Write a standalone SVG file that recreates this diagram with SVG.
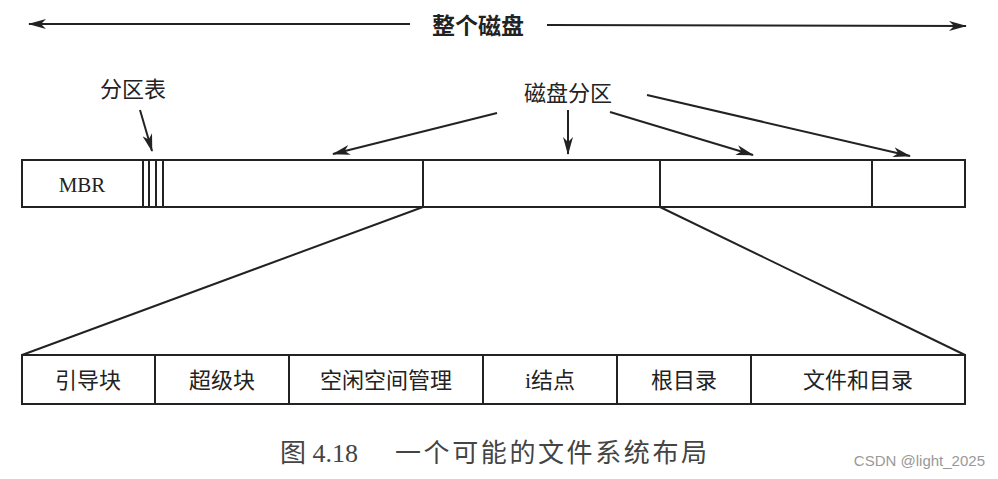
<svg xmlns="http://www.w3.org/2000/svg" width="998" height="479" viewBox="0 0 998 479">
<style>
.ln{stroke:#222;stroke-width:2;fill:none}
.box{stroke:#222;stroke-width:2;fill:#fff}
.t{font-family:"Liberation Serif","Noto Sans CJK SC",serif;fill:#222;text-anchor:middle;dominant-baseline:central}
.cn{font-size:22px}
</style>
<defs>
<marker id="ah" viewBox="0 0 18 10" refX="17" refY="5" markerWidth="18" markerHeight="10" markerUnits="userSpaceOnUse" orient="auto">
<path d="M0,0 L18,5 L0,10 L5,5 Z" fill="#222"/>
</marker>
</defs>
<rect width="998" height="479" fill="#fff"/>
<g id="connectors">
<line class="ln" x1="410" y1="24" x2="29" y2="24" marker-end="url(#ah)"/>
<line class="ln" x1="547" y1="25" x2="966" y2="26" marker-end="url(#ah)"/>
<line class="ln" x1="140" y1="110" x2="152" y2="151" marker-end="url(#ah)"/>
<line class="ln" x1="497" y1="113" x2="333" y2="154" marker-end="url(#ah)"/>
<line class="ln" x1="568" y1="110" x2="568" y2="154" marker-end="url(#ah)"/>
<line class="ln" x1="610" y1="112" x2="753" y2="155" marker-end="url(#ah)"/>
<line class="ln" x1="647" y1="95" x2="910" y2="156" marker-end="url(#ah)"/>
<line class="ln" x1="423" y1="207" x2="22" y2="355"/>
<line class="ln" x1="660" y1="207" x2="965" y2="355"/>
</g>
<g id="whole-disk-label"><text class="t" x="478" y="26" font-size="23" font-weight="bold">整个磁盘</text></g>
<g id="partition-table-label"><text class="t cn" x="133" y="89">分区表</text></g>
<g id="disk-partition-label"><text class="t cn" x="568" y="93">磁盘分区</text></g>
<g id="disk-bar">
<rect class="box" x="22" y="160" width="943" height="47"/>
<line class="ln" x1="143" y1="160" x2="143" y2="207" stroke-width="1.5"/>
<line class="ln" x1="149" y1="160" x2="149" y2="207" stroke-width="1.5"/>
<line class="ln" x1="156" y1="160" x2="156" y2="207" stroke-width="1.5"/>
<line class="ln" x1="163" y1="160" x2="163" y2="207" stroke-width="1.5"/>
<line class="ln" x1="423" y1="160" x2="423" y2="207"/>
<line class="ln" x1="660" y1="160" x2="660" y2="207"/>
<line class="ln" x1="872" y1="160" x2="872" y2="207"/>
<text class="t" x="82" y="185" font-size="21">MBR</text>
</g>
<g id="layout-bar">
<rect class="box" x="22" y="355" width="943" height="49"/>
<line class="ln" x1="155" y1="355" x2="155" y2="404"/>
<line class="ln" x1="289" y1="355" x2="289" y2="404"/>
<line class="ln" x1="483" y1="355" x2="483" y2="404"/>
<line class="ln" x1="617" y1="355" x2="617" y2="404"/>
<line class="ln" x1="751" y1="355" x2="751" y2="404"/>
</g>
<g id="boot-block"><text class="t cn" x="88" y="380">引导块</text></g>
<g id="super-block"><text class="t cn" x="222" y="380">超级块</text></g>
<g id="free-space"><text class="t cn" x="386" y="380">空闲空间管理</text></g>
<g id="inodes"><text class="t cn" x="550" y="380">i结点</text></g>
<g id="root-dir"><text class="t cn" x="684" y="380">根目录</text></g>
<g id="files-dirs"><text class="t cn" x="858" y="380">文件和目录</text></g>
<g id="caption">
<text x="280" y="462" font-family="Liberation Serif,'Noto Sans CJK SC',serif" font-size="26" fill="#444">图 4.18</text>
<text x="395" y="462" font-family="Liberation Serif,'Noto Sans CJK SC',serif" font-size="26" fill="#444" textLength="312" lengthAdjust="spacing">一个可能的文件系统布局</text>
</g>
<text x="985" y="466" font-family="Liberation Sans,sans-serif" font-size="15" fill="#999" text-anchor="end">CSDN @light_2025</text>
</svg>
